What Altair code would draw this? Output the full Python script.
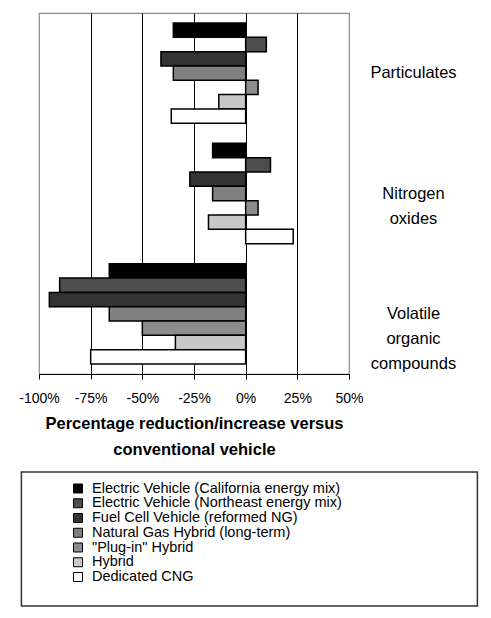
import altair as alt
import pandas as pd

categories = ["Particulates", "Nitrogen oxides", "Volatile organic compounds"]
vehicles = [
    "Electric Vehicle (California energy mix)",
    "Electric Vehicle (Northeast energy mix)",
    "Fuel Cell Vehicle (reformed NG)",
    "Natural Gas Hybrid (long-term)",
    '"Plug-in" Hybrid',
    "Hybrid",
    "Dedicated CNG",
]
particulates = [-35, 10, -41, -35, 6, -13, -36]
nitrogen_oxides = [-16, 12, -27, -16, 6, -18, 23]
volatile_organic = [-66, -90, -95, -66, -50, -34, -75]
colors = ["#000000", "#4d4d4d", "#333333", "#808080", "#8c8c8c", "#c8c8c8", "#ffffff"]
x_ticks = [-100, -75, -50, -25, 0, 25, 50]

rows = []
for cat, vals in zip(categories, [particulates, nitrogen_oxides, volatile_organic]):
    for v, val in zip(vehicles, vals):
        rows.append({"category": cat, "vehicle": v, "value": val})
df = pd.DataFrame(rows)

FONT = "Liberation Sans"

color_enc = alt.Color("vehicle:N", sort=vehicles,
                      scale=alt.Scale(domain=vehicles, range=colors), legend=None)

top = alt.Chart(df).mark_bar(stroke="black", strokeWidth=1.5).encode(
    x=alt.X("value:Q",
            scale=alt.Scale(domain=[-100, 50], nice=False),
            axis=alt.Axis(values=x_ticks, labelExpr="datum.value + '%'",
                          labelFlush=False, labelOverlap=False,
                          title=["Percentage reduction/increase versus", "conventional vehicle"],
                          grid=True, gridColor="black", gridWidth=1,
                          gridOpacity={"condition": {"test": "datum.value == -100 || datum.value == 50", "value": 0}, "value": 1},
                          domainColor="black", domainWidth=1.2,
                          tickColor="black", tickSize=5,
                          labelFont=FONT, labelFontSize=14, labelColor="black", labelPadding=12,
                          titleFont=FONT, titleFontSize=16.5, titleFontWeight="bold", titleColor="black",
                          titleLineHeight=26, titlePadding=10)),
    y=alt.Y("category:N", sort=categories,
            scale=alt.Scale(paddingInner=0.167, paddingOuter=0.083),
            axis=alt.Axis(orient="right", title=None, domain=False, ticks=False, tickSize=0,
                          grid=False, labelAlign="center", labelBaseline="middle",
                          labelPadding=64, labelExpr="split(datum.label, ' ')",
                          labelFont=FONT, labelFontSize=16.5, labelLineHeight=25,
                          labelColor="black", labelLimit=300)),
    yOffset=alt.YOffset("vehicle:N", sort=vehicles),
    color=color_enc,
).properties(width=310, height=361,
             view=alt.ViewBackground(stroke="#8c8c8c", strokeWidth=1.2))

LEG_H = 134
leg_df = pd.DataFrame({"vehicle": vehicles})
leg_base = alt.Chart(leg_df).encode(
    y=alt.Y("vehicle:N", sort=vehicles,
            scale=alt.Scale(type="point", range=[16.5, 105], padding=0), axis=None)
)
squares = leg_base.mark_square(size=81, filled=True, stroke="black",
                               strokeWidth=1, opacity=1).encode(
    x=alt.value(39), color=color_enc)
texts = leg_base.mark_text(align="left", baseline="middle", font=FONT,
                           fontSize=14.5, color="black").encode(
    x=alt.value(53), text="vehicle:N")
frame = alt.Chart(pd.DataFrame({"frame": [0]})).mark_rect(
    fill=None, stroke="#333333", strokeWidth=1.5).encode(
    x=alt.value(-17.6), x2=alt.value(438.4), y=alt.value(0), y2=alt.value(LEG_H))
legend_panel = alt.layer(frame, squares, texts).properties(
    width=438, height=LEG_H,
    view=alt.ViewBackground(stroke=None, strokeWidth=0))

chart = alt.vconcat(top, legend_panel, spacing=12).properties(
    padding={"left": 10, "top": 4, "right": 0, "bottom": 0}
)

chart.save("out.html", embed_options={"renderer": "svg", "actions": False})
